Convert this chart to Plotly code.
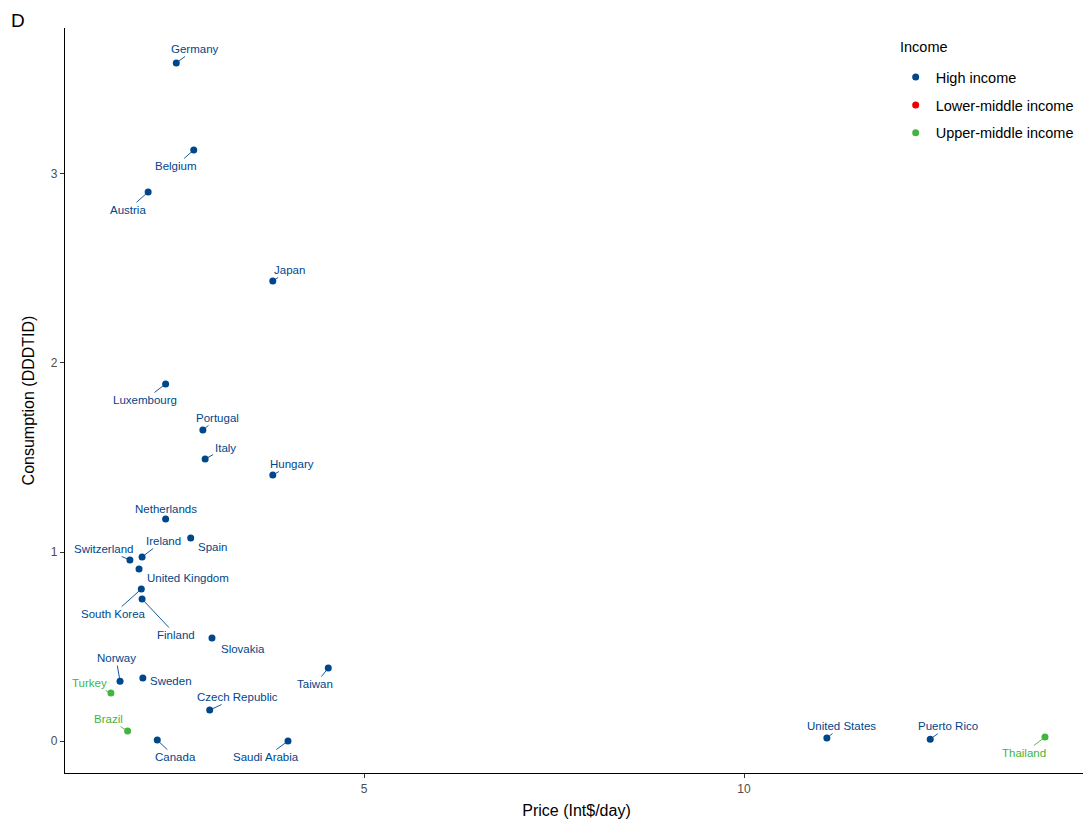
import plotly.graph_objects as go

countries = ["Germany", "Belgium", "Austria", "Japan", "Luxembourg", "Portugal", "Italy",
             "Hungary", "Netherlands", "Spain", "Ireland", "Switzerland", "United Kingdom",
             "South Korea", "Finland", "Slovakia", "Taiwan", "Norway", "Sweden", "Turkey",
             "Czech Republic", "Brazil", "Canada", "Saudi Arabia", "United States",
             "Puerto Rico", "Thailand"]
price = [2.53, 2.76, 2.16, 3.80, 2.39, 2.88, 2.91,
         3.80, 2.39, 2.72, 2.08, 1.92, 2.04,
         2.07, 2.08, 3.00, 4.53, 1.79, 2.09, 1.67,
         2.97, 1.89, 2.28, 4.00, 11.09,
         12.45, 13.96]
consumption = [3.587, 3.127, 2.905, 2.434, 1.889, 1.646, 1.492,
               1.407, 1.175, 1.074, 0.974, 0.958, 0.910,
               0.804, 0.751, 0.545, 0.386, 0.317, 0.333, 0.254,
               0.164, 0.053, 0.005, 0.000, 0.016,
               0.010, 0.021]
income = ["High income"] * 19 + ["Upper-middle income"] + ["High income"] + \
         ["Upper-middle income"] + ["High income"] * 4 + ["Upper-middle income"]

income_levels = ["High income", "Lower-middle income", "Upper-middle income"]
palette = {"High income": "#00468B", "Lower-middle income": "#ED0000",
           "Upper-middle income": "#42B540"}

# label placement (pixel offsets from point, as ggrepel placed them); line = draw leader segment
label_style = {
    "Germany": (19, -14, True), "Belgium": (-18, 16, True), "Austria": (-20, 18, True),
    "Japan": (17, -11, True), "Luxembourg": (-21, 16, True), "Portugal": (15, -12, True),
    "Italy": (20, -11, True), "Hungary": (19, -11, True), "Netherlands": (0, -10, False),
    "Spain": (22, 9, False), "Ireland": (21, -16, True), "Switzerland": (-26, -11, True),
    "United Kingdom": (49, 9, False), "South Korea": (-28, 25, True), "Finland": (34, 36, True),
    "Slovakia": (31, 11, False), "Taiwan": (-13, 16, True), "Norway": (-4, -23, True),
    "Sweden": (28, 3, False), "Turkey": (-21, -10, True), "Czech Republic": (28, -13, True),
    "Brazil": (-19, -12, True), "Canada": (18, 17, True), "Saudi Arabia": (-22, 16, True),
    "United States": (15, -12, True), "Puerto Rico": (18, -13, True), "Thailand": (-21, 16, True),
}

FONT = "Liberation Sans, Arial, sans-serif"
fig = go.Figure()

for lvl in income_levels:
    xs = [p for p, inc in zip(price, income) if inc == lvl]
    ys = [c for c, inc in zip(consumption, income) if inc == lvl]
    if not xs:
        xs, ys = [None], [None]
    fig.add_trace(go.Scatter(
        x=xs, y=ys, mode="markers", name=lvl, legendgroup=lvl,
        marker=dict(color=palette[lvl], size=7),
        hoverinfo="skip"))

annotations = []
for c, x, y, inc in zip(countries, price, consumption, income):
    dx, dy, line = label_style[c]
    col = palette[inc]
    if line:
        annotations.append(dict(
            x=x, y=y, xref="x", yref="y", text=c, showarrow=True,
            ax=dx, ay=dy, axref="pixel", ayref="pixel",
            arrowhead=0, arrowwidth=0.9, arrowcolor=col, standoff=3,
            font=dict(family=FONT, size=11.5, color=col)))
    else:
        annotations.append(dict(
            x=x, y=y, xref="x", yref="y", text=c, showarrow=False,
            xshift=dx, yshift=-dy,
            font=dict(family=FONT, size=11.5, color=col)))

annotations.append(dict(x=-0.0547, y=1.0107, xref="paper", yref="paper", text="D",
                        showarrow=False, xanchor="left", yanchor="middle",
                        font=dict(family=FONT, size=19, color="black")))
annotations.append(dict(x=0.814, y=0.9745, xref="paper", yref="paper", text="Income",
                        showarrow=False, xanchor="left", yanchor="middle",
                        font=dict(family=FONT, size=14.5, color="black")))

fig.update_layout(
    width=1083, height=818,
    margin=dict(l=57, r=3, t=20, b=53, autoexpand=False),
    paper_bgcolor="white", plot_bgcolor="white",
    font=dict(family=FONT, color="black"),
    annotations=annotations,
    showlegend=True,
    legend=dict(
        x=0.812, y=0.9555, xanchor="left", yanchor="top",
        font=dict(size=14.5, color="black"),
        tracegroupgap=6,
        bgcolor="rgba(0,0,0,0)"),
    xaxis=dict(
        range=[1.066, 14.526], tickvals=[5, 10], ticktext=["5", "10"], automargin=False,
        showgrid=False, zeroline=False, showline=True, linecolor="black", linewidth=1.2,
        ticks="outside", ticklen=4, tickcolor="#333333", tickwidth=1,
        tickfont=dict(size=12, color="#4d4d4d"),
        title=dict(text="Price (Int$/day)", font=dict(size=16, color="black"), standoff=10)),
    yaxis=dict(
        range=[-0.169, 3.772], tickvals=[0, 1, 2, 3], ticktext=["0", "1", "2", "3"], automargin=False,
        showgrid=False, zeroline=False, showline=True, linecolor="black", linewidth=1.2,
        ticks="outside", ticklen=4, tickcolor="#333333", tickwidth=1,
        tickfont=dict(size=12, color="#4d4d4d"),
        title=dict(text="Consumption (DDDTID)", font=dict(size=16, color="black"), standoff=12)),
)

fig.write_html("out.html")
